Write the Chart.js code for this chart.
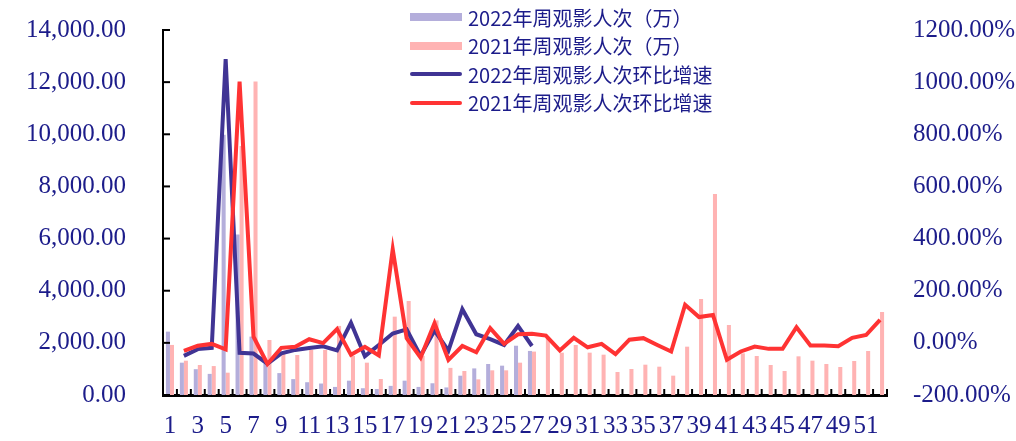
<!DOCTYPE html>
<html>
<head>
<meta charset="utf-8">
<script src="https://cdn.jsdelivr.net/npm/chart.js@4.4.1/dist/chart.umd.min.js"></script>
<style>
  html, body { margin: 0; padding: 0; background: #ffffff; }
  #wrap { position: relative; width: 1016px; height: 441px; }
  #legend {
    position: absolute; left: 410px; top: 3px;
    font-family: "Noto Sans CJK SC", "Noto Sans", sans-serif;
    font-size: 20px; color: #1c1c8a;
  }
  .row { display: flex; align-items: center; height: 28.5px; }
  .sw { width: 52px; margin-right: 6px; }
  .bar { height: 8px; }
  .ln { height: 4px; border-radius: 2px; }
</style>
</head>
<body>
<div id="wrap">
  <canvas id="boxOffice" width="1016" height="441"></canvas>
  <div id="legend"></div>
</div>
<script>
const weeks = Array.from({ length: 52 }, (_, i) => String(i + 1));

// 周观影人次（万）
const viewers2022 = [
  2430, 1240, 990, 810, 9980, 6160, 2240, 1200, 840, 610,
  490, 440, 310, 550, 260, 230, 350, 550, 310, 450,
  290, 740, 1020, 1190, 1125, 1890, 1690
];
const viewers2021 = [
  1920, 1316, 1150, 1110, 856, 9550, 12020, 2110, 1600, 1534,
  1730, 1730, 2650, 1500, 1240, 614, 3005, 3606, 1500, 2860,
  1040, 920, 600, 946, 946, 1240, 1665, 2200, 1624, 1918,
  1624, 1547, 882, 997, 1163, 1086, 742, 1854, 3683, 7710,
  2685, 1598, 1496, 1151, 921, 1483, 1317, 1189, 1074, 1304,
  1688, 3184
];

// 环比增速 (%), week 1 has no value
const growth2022 = [
  null, -50, -24, -19, 1088, -38, -41, -80, -40, -27,
  -20, -13, -29, 77, -51, -8, 36, 52, -50, 47,
  -30, 129, 33, 14, -8, 65, -12
];
const growth2021 = [
  null, -31, -11, -4, -25, 1002, 24, -81, -19, -15,
  14, -1, 53, -46, -15, -48, 359, 18, -57, 75,
  -65, -12, -36, 56, -4, 33, 35, 28, -29, 19,
  -17, -4, -43, 12, 18, -8, -33, 146, 99, 107,
  -65, -33, -14, -23, -23, 60, -10, -10, -13, 19,
  30, 88
];

const leftTicks = [0, 14000, 2000];
const rightTicks = [-200, 1200, 200];

const navy = "#1c1c8a";
const tickFont = { family: "'Liberation Serif', 'DejaVu Serif', serif", size: 25 };

const series = [
  { label: "2022年周观影人次（万）", kind: "bar", color: "#b4aedb" },
  { label: "2021年周观影人次（万）", kind: "bar", color: "#ffb3b3" },
  { label: "2022年周观影人次环比增速", kind: "line", color: "#403494" },
  { label: "2021年周观影人次环比增速", kind: "line", color: "#ff3333" },
];

// short tick marks pointing into the plot, like the original
const innerTicks = {
  id: "innerTicks",
  afterDraw(chart) {
    const { ctx, chartArea, scales } = chart;
    ctx.save();
    ctx.strokeStyle = "#000000";
    ctx.lineWidth = 2;
    scales.y.ticks.forEach((t) => {
      const y = scales.y.getPixelForValue(t.value);
      ctx.beginPath();
      ctx.moveTo(chartArea.left, y);
      ctx.lineTo(chartArea.left + 7, y);
      ctx.stroke();
    });
    const n = weeks.length;
    const w = (chartArea.right - chartArea.left) / n;
    for (let i = 0; i <= n; i++) {
      const x = chartArea.left + i * w;
      ctx.beginPath();
      ctx.moveTo(x, chartArea.bottom);
      ctx.lineTo(x, chartArea.bottom - 6);
      ctx.stroke();
    }
    ctx.restore();
  },
};

function buildLegend() {
  const box = document.getElementById("legend");
  series.forEach((s) => {
    const row = document.createElement("div");
    row.className = "row";
    const sw = document.createElement("span");
    sw.className = "sw " + (s.kind === "bar" ? "bar" : "ln");
    sw.style.background = s.color;
    const txt = document.createElement("span");
    txt.textContent = s.label;
    row.appendChild(sw);
    row.appendChild(txt);
    box.appendChild(row);
  });
}

function fixVertical(width) {
  return (scale) => {
    scale.width = width;
    scale.paddingTop = 30;
    scale.paddingBottom = 0;
  };
}

function initChart() {
  const ctx = document.getElementById("boxOffice");

  new Chart(ctx, {
    data: {
      labels: weeks,
      datasets: [
        {
          type: "line",
          label: series[3].label,
          data: growth2021,
          borderColor: series[3].color,
          borderWidth: 4,
          pointRadius: 0,
          tension: 0,
          yAxisID: "y1",
          order: 0,
        },
        {
          type: "line",
          label: series[2].label,
          data: growth2022,
          borderColor: series[2].color,
          borderWidth: 4,
          pointRadius: 0,
          tension: 0,
          yAxisID: "y1",
          order: 1,
        },
        {
          type: "bar",
          label: series[0].label,
          data: viewers2022,
          backgroundColor: series[0].color,
          categoryPercentage: 0.58,
          barPercentage: 1.0,
          yAxisID: "y",
          order: 2,
        },
        {
          type: "bar",
          label: series[1].label,
          data: viewers2021,
          backgroundColor: series[1].color,
          categoryPercentage: 0.58,
          barPercentage: 1.0,
          yAxisID: "y",
          order: 3,
        },
      ],
    },
    options: {
      responsive: false,
      animation: false,
      layout: { padding: 0 },
      plugins: {
        legend: { display: false },
        tooltip: { enabled: false },
      },
      scales: {
        x: {
          offset: true,
          grid: { display: false },
          border: { display: true, color: "#000000", width: 3 },
          ticks: {
            font: tickFont,
            color: navy,
            autoSkip: false,
            maxRotation: 0,
            minRotation: 0,
            padding: 8,
            callback: (v, i) => (i % 2 === 0 ? weeks[i] : ""),
          },
          afterFit: (scale) => {
            scale.height = 46;
            scale.paddingLeft = 0;
            scale.paddingRight = 0;
          },
        },
        y: {
          position: "left",
          min: leftTicks[0],
          max: leftTicks[1],
          grid: { display: false },
          border: { display: true, color: "#000000", width: 2 },
          ticks: {
            stepSize: leftTicks[2],
            font: tickFont,
            color: navy,
            padding: 29,
            callback: (v) => v.toLocaleString("en-US", { minimumFractionDigits: 2, maximumFractionDigits: 2 }),
          },
          afterFit: fixVertical(163),
        },
        y1: {
          position: "right",
          min: rightTicks[0],
          max: rightTicks[1],
          grid: { display: false },
          border: { display: false },
          ticks: {
            stepSize: rightTicks[2],
            font: tickFont,
            color: navy,
            padding: 18,
            callback: (v) => v.toFixed(2) + "%",
          },
          afterFit: fixVertical(129),
        },
      },
    },
    plugins: [innerTicks],
  });
}

buildLegend();
initChart();
</script>
</body>
</html>
